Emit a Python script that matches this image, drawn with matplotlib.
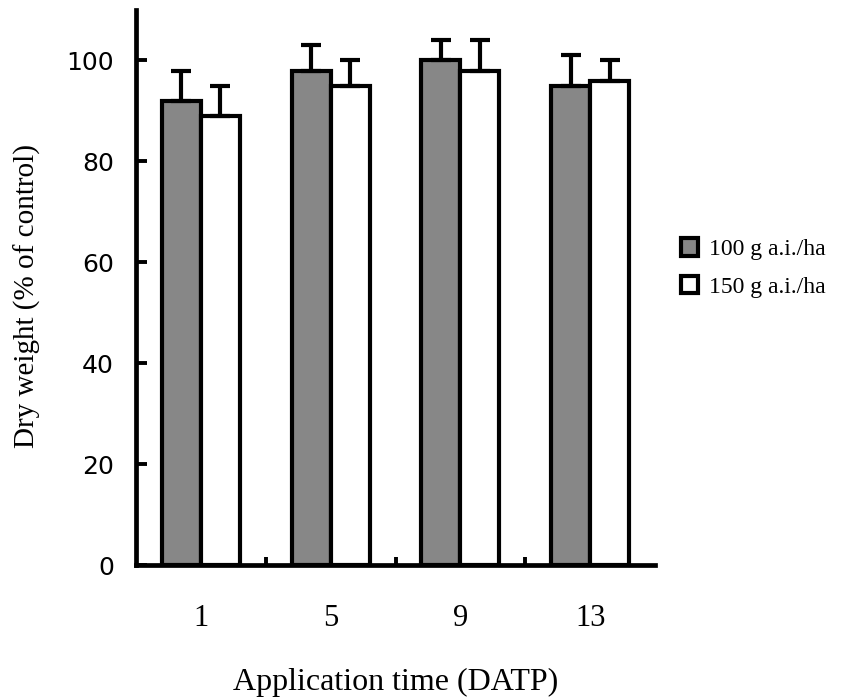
import numpy as np
import matplotlib.pyplot as plt
from matplotlib.patches import Patch

# 데이터
times = ['1', '5', '9', '13']
dose100 = [92, 98, 100, 95]
dose100_err = [6, 5, 4, 6]
dose150 = [89, 95, 98, 96]
dose150_err = [6, 5, 6, 4]

fig = plt.figure(figsize=(8.42, 6.99), dpi=100)
ax = fig.add_axes([0.1615, 0.1917, 0.6165, 0.794])

x = np.arange(1, len(times) + 1)
w = 0.3
lw = 3.0
err_kw = dict(elinewidth=lw, capsize=7, capthick=lw, ecolor='black')

ax.bar(x - w / 2, dose100, w, color='#878787', edgecolor='black', linewidth=lw,
       yerr=[np.zeros(4), dose100_err], error_kw=err_kw, zorder=2)
ax.bar(x + w / 2, dose150, w, color='white', edgecolor='black', linewidth=lw,
       yerr=[np.zeros(4), dose150_err], error_kw=err_kw, zorder=2)

ax.set_xlim(0.5, 4.5)
ax.set_ylim(0, 110)
ax.spines['top'].set_visible(False)
ax.spines['right'].set_visible(False)
ax.spines['left'].set_linewidth(3.4)
ax.spines['bottom'].set_linewidth(3.4)

ax.set_yticks([0, 20, 40, 60, 80, 100])
ax.tick_params(axis='y', direction='in', length=8, width=2.8, labelsize=18, pad=16)

ax.set_xticks(x)
ax.set_xticklabels(times, family='Liberation Serif', fontsize=22)
ax.tick_params(axis='x', which='major', length=0, pad=28)
ax.set_xticks([1.5, 2.5, 3.5], minor=True)
ax.tick_params(axis='x', which='minor', direction='in', length=6, width=2.8)

ax.set_xlabel('Application time (DATP)', family='Liberation Serif', fontsize=23)
ax.xaxis.set_label_coords(0.5, -0.186)
ax.set_ylabel('Dry weight (% of control)', family='Liberation Serif', fontsize=21)
ax.yaxis.set_label_coords(-0.183, 0.485)

handles = [Patch(facecolor='#878787', edgecolor='black', linewidth=3),
           Patch(facecolor='white', edgecolor='black', linewidth=3)]
fig.legend(handles, ['100 g a.i./ha', '150 g a.i./ha'], loc='center left',
           bbox_to_anchor=(0.783, 0.6166), frameon=False,
           prop={'family': 'Liberation Serif', 'size': 17},
           handlelength=0.75, handleheight=0.75, handletextpad=0.45, labelspacing=0.65)

fig.savefig('out.png', dpi=100)
